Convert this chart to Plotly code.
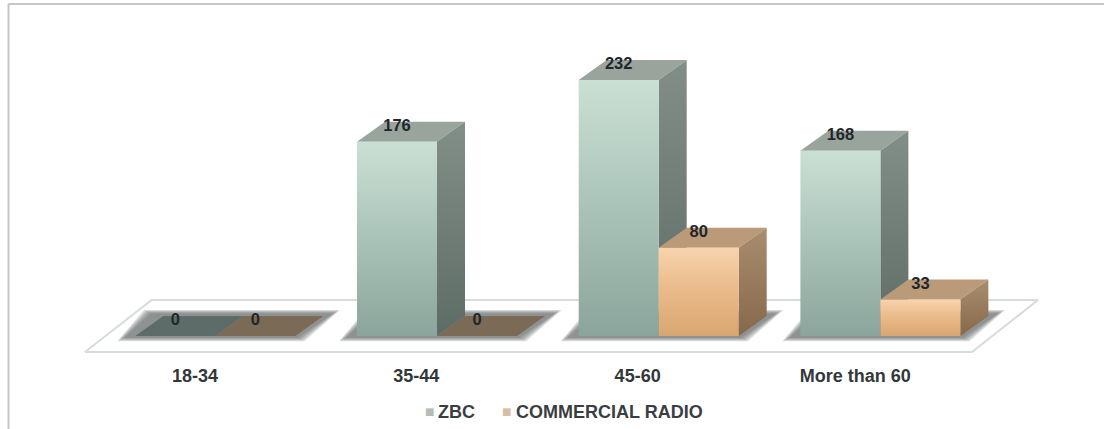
import plotly.graph_objects as go

# Listeners by age group and station type
categories = ["18-34", "35-44", "45-60", "More than 60"]
tick_positions = [-0.092, 0.906, 1.905, 2.887]
zbc = [0, 176, 232, 168]
commercial = [0, 0, 80, 33]

SERIES = [
    dict(name="ZBC", values=zbc,
         front=["#8ba59c", "#a9c3b8", "#cbe0d5"],
         side=["#5e6c66", "#828f88"], top="#98a49c", flat="#5d6c69"),
    dict(name="COMMERCIAL RADIO", values=commercial,
         front=["#d8a671", "#e9b988", "#f8d3ad"],
         side=["#86694a", "#a88d6e"], top="#ba9a79", flat="#7b6a56"),
]

# Axis units: one category step across, one listener upward
W, H, BOTTOM = 1104, 429, 74
ORIGIN_X = 215.3
PX_PER_CAT = 221.7
PX_PER_VAL = 1.103
BAR_W = 80 / PX_PER_CAT
DEPTH_X = 28 / PX_PER_CAT
DEPTH_Y = 20 / PX_PER_VAL
X_RANGE = [-ORIGIN_X / PX_PER_CAT, (W - ORIGIN_X) / PX_PER_CAT]
Y_RANGE = [-19 / PX_PER_VAL, 336 / PX_PER_VAL]


def fx(px):
    return px / W


def fy(px):
    return 1 - px / (H - BOTTOM)


fig = go.Figure()


def polygon(xs, ys, color=None, gradient=None, line=None):
    trace = dict(x=xs + xs[:1], y=ys + ys[:1], mode="lines", fill="toself",
                 line=line or dict(width=0), hoverinfo="skip", showlegend=False)
    if gradient:
        scale = [[k / (len(gradient) - 1), c] for k, c in enumerate(gradient)]
        trace["fillgradient"] = dict(type="vertical", colorscale=scale)
    else:
        trace["fillcolor"] = color
    fig.add_trace(go.Scatter(**trace))


# White floor plate the columns stand on
polygon([-0.588, 3.413, 3.711, -0.287], [-14.5, -14.5, 32.6, 32.6], color="#ffffff",
        line=dict(color="#d6dcdc", width=2))

# Soft shadow under each group, built from nested translucent layers
for i in range(len(categories)):
    left, right = i - BAR_W, i + BAR_W
    for grow in (1.0, 0.8, 0.6, 0.4, 0.2, 0.0):
        dx = (7 * grow) / PX_PER_CAT
        dy = (3.5 * grow) / PX_PER_VAL
        polygon([left - 0.05 - dx, right + 0.01 + dx, right + 0.17 + dx, left + 0.07 - dx],
                [-1.5 - dy, -1.5 - dy, 20.5 + dy, 20.5 + dy],
                color="rgba(105,112,112,0.20)")

# Columns: front, side and top faces, painted back to front
for i in range(len(categories)):
    for s, series in enumerate(SERIES):
        v = series["values"][i]
        x0 = i + (s - 1) * BAR_W
        x1 = x0 + BAR_W
        polygon([x0, x1, x1 + DEPTH_X, x0 + DEPTH_X],
                [v, v, v + DEPTH_Y, v + DEPTH_Y],
                color=series["top"] if v else series["flat"])
        if v:
            polygon([x1, x1 + DEPTH_X, x1 + DEPTH_X, x1],
                    [0, DEPTH_Y, v + DEPTH_Y, v], gradient=series["side"])
            polygon([x0, x1, x1, x0], [0, 0, v, v], gradient=series["front"])

# Value labels sit on the top face of each column
for s, series in enumerate(SERIES):
    fig.add_trace(go.Scatter(
        x=[i + (s - 0.5) * BAR_W for i in range(len(categories))],
        y=[v + 13.5 for v in series["values"]],
        text=[str(v) for v in series["values"]],
        mode="text", textposition="middle center",
        textfont=dict(family="Liberation Sans", size=16.5, color="#22262a", weight="bold"),
        hoverinfo="skip", showlegend=False))

# Key below the plot
legend_items = [(SERIES[0]["name"], "#b4bcb7", 423, 436), (SERIES[1]["name"], "#d8bea4", 500, 514)]
annotations = []
for name, swatch, sx, tx in legend_items:
    annotations.append(dict(text="■", x=fx(sx), y=fy(411), xref="paper", yref="paper",
                            xanchor="left", yanchor="middle", showarrow=False,
                            font=dict(family="DejaVu Sans", size=10, color=swatch)))
    annotations.append(dict(text=f"<b>{name}</b>", x=fx(tx), y=fy(412), xref="paper", yref="paper",
                            xanchor="left", yanchor="middle", showarrow=False,
                            font=dict(family="Liberation Sans", size=18, color="#3a3e42")))

fig.update_layout(
    width=W, height=H,
    margin=dict(l=0, r=0, t=0, b=BOTTOM, autoexpand=False),
    paper_bgcolor="#ffffff", plot_bgcolor="#ffffff",
    showlegend=False,
    annotations=annotations,
    xaxis=dict(range=X_RANGE, tickmode="array", tickvals=tick_positions,
               ticktext=categories, showgrid=False, zeroline=False, showline=False,
               ticks="", ticklabelstandoff=8, fixedrange=True,
               tickfont=dict(family="Liberation Sans", size=18, color="#33373a", weight="bold")),
    yaxis=dict(range=Y_RANGE, visible=False, fixedrange=True),
    # Thin frame along the top and left of the slide
    shapes=[
        dict(type="line", xref="paper", yref="paper", x0=fx(8.5), x1=1, y0=fy(4), y1=fy(4),
             line=dict(color="#c6c6c6", width=2)),
        dict(type="line", xref="paper", yref="paper", x0=fx(8.5), x1=fx(8.5), y0=fy(429), y1=fy(4),
             line=dict(color="#c6c6c6", width=2)),
    ],
)

fig.write_html("out.html")
